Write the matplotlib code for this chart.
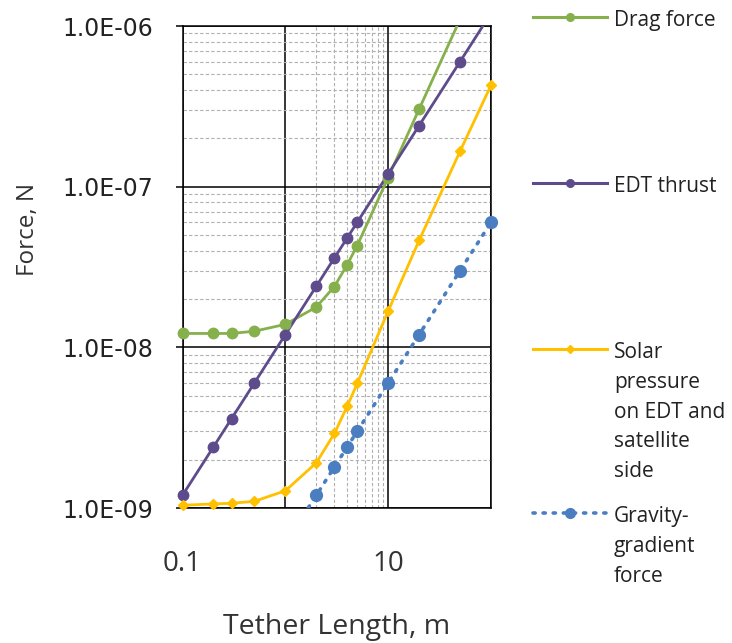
import numpy as np
import matplotlib
matplotlib.use("Agg")
import matplotlib.pyplot as plt
from matplotlib.lines import Line2D
from matplotlib.ticker import FixedLocator, FuncFormatter, NullFormatter

# tether length, m
length = np.array([0.1, 0.2, 0.3, 0.5, 1, 2, 3, 4, 5, 10, 20, 50, 100])

drag = np.array([1.22e-8, 1.22e-8, 1.22e-8, 1.26e-8, 1.39e-8, 1.78e-8, 2.39e-8,
                 3.27e-8, 4.3e-8, 1.14e-7, 3.04e-7, 1.1e-6, 3.5e-6])
edt = np.array([1.2e-9, 2.4e-9, 3.6e-9, 6.0e-9, 1.2e-8, 2.4e-8, 3.6e-8,
                4.8e-8, 6.0e-8, 1.2e-7, 2.4e-7, 6.0e-7, 1.2e-6])
solar = np.array([1.04e-9, 1.06e-9, 1.07e-9, 1.10e-9, 1.28e-9, 1.91e-9, 2.91e-9,
                  4.3e-9, 5.96e-9, 1.68e-8, 4.63e-8, 1.66e-7, 4.28e-7])
gravity = np.array([6e-11, 1.2e-10, 1.8e-10, 3e-10, 6e-10, 1.2e-9, 1.8e-9,
                    2.4e-9, 3.0e-9, 6.0e-9, 1.2e-8, 3.0e-8, 6.0e-8])

labels = ["Drag force", "EDT thrust",
          "Solar\npressure\non EDT and\nsatellite\nside",
          "Gravity-\ngradient\nforce"]
colors = ["#86B04B", "#5E4B8C", "#FFC000", "#4A7EC0"]

W, H = 732, 643
fig = plt.figure(figsize=(W / 100, H / 100), dpi=100)
ax = fig.add_axes([182.5 / W, 1 - 508 / H, 308.5 / W, 482 / H])
ax.set_xscale("log")
ax.set_yscale("log")
ax.set_xlim(0.1, 100)
ax.set_ylim(1e-9, 1e-6)

series = [drag, edt, solar, gravity]
styles = [
    dict(ls="-", marker="o", ms=7.5, lms=5.5),
    dict(ls="-", marker="o", ms=7.5, lms=5.5),
    dict(ls="-", marker="D", ms=5.5, lms=4.5),
    dict(ls=(0, (0.6, 2.2)), marker="o", ms=8.5, lms=7),
]
ylo, yhi = ax.get_ylim()
for vals, c, st in zip(series, colors, styles):
    lw = 2.6 if st["ls"] != "-" else 2.0
    ax.plot(length, vals, color=c, lw=lw, ls=st["ls"], dash_capstyle="round",
            zorder=3)
    inside = (vals >= ylo * 0.98) & (vals <= yhi * 1.02)
    ax.plot(length[inside], vals[inside], ls="none", marker=st["marker"],
            ms=st["ms"], color=c, mec=c, clip_on=False, zorder=4)

# grid
ax.xaxis.set_major_locator(FixedLocator([0.1, 1, 10, 100]))
ax.xaxis.set_minor_locator(FixedLocator([2, 3, 4, 5, 6, 7, 8, 9]))
ax.xaxis.set_major_formatter(FuncFormatter(lambda v, p: {0.1: "0.1", 10: "10"}.get(round(v, 3), "")))
ax.xaxis.set_minor_formatter(NullFormatter())
ymaj = [1e-9, 1e-8, 1e-7, 1e-6]
ymin = [m * d for d in [1e-9, 1e-8, 1e-7] for m in range(2, 10)]
ax.yaxis.set_major_locator(FixedLocator(ymaj))
ax.yaxis.set_minor_locator(FixedLocator(ymin))
ax.yaxis.set_major_formatter(FuncFormatter(lambda v, p: "%.1E" % v))
ax.yaxis.set_minor_formatter(NullFormatter())

ax.grid(which="major", color="black", lw=1.1, zorder=1)
ax.grid(which="minor", color="#B0B0B0", lw=0.8, ls=(0, (3, 2)), zorder=0)
for s in ax.spines.values():
    s.set_color("black")
    s.set_linewidth(1.1)

ax.tick_params(axis="x", which="both", length=0, pad=30, labelsize=20)
ax.tick_params(axis="y", which="major", length=5, width=1.1, pad=16, labelsize=17)
ax.tick_params(axis="y", which="minor", length=0)
for t in ax.get_xticklabels():
    t.set_family("Open Sans")
    t.set_color("#333333")
for t in ax.get_yticklabels():
    t.set_family("DejaVu Sans")
    t.set_color("#222222")

ax.set_xlabel("Tether Length, m", fontsize=20.5, family="Open Sans", color="#333333")
ax.xaxis.set_label_coords(0.5, -0.247)
ax.xaxis.label.set_va("center")
ax.set_ylabel("Force, N", fontsize=17.5, family="Open Sans", color="#333333")
ax.yaxis.set_label_coords(-0.50, 0.577)
ax.yaxis.label.set_va("center")

# legend, spread down the right side as in the source
leg_y = [17, 183, 349, 513]
for lab, c, st, y in zip(labels, colors, styles, leg_y):
    yf = 1 - y / H
    lw = 2.6 if st["ls"] != "-" else 2.2
    fig.add_artist(Line2D([533 / W, 570 / W, 607 / W], [yf] * 3, transform=fig.transFigure,
                          color=c, lw=lw, ls=st["ls"], dash_capstyle="round",
                          marker=st["marker"], ms=st["lms"], markevery=[1]))
    fig.text(614 / W, 1 - (y - 7) / H, lab, fontsize=15, family="Open Sans",
             va="top", ha="left", linespacing=1.55, color="#222222")

fig.savefig("out.png", dpi=100)
